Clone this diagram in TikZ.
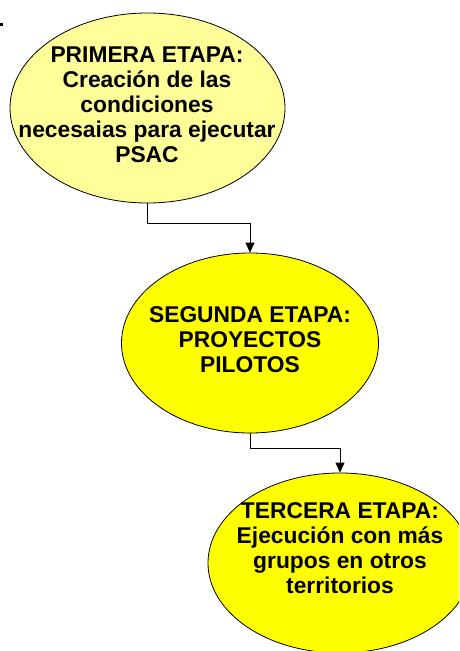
\documentclass[tikz,border=0pt]{standalone}
\usepackage{fontspec}
\setmainfont{Liberation Sans}
\usetikzlibrary{shapes.geometric,arrows.meta}

\definecolor{paleyellow}{RGB}{255,255,153}
\definecolor{brightyellow}{RGB}{255,255,0}

\begin{document}
\begin{tikzpicture}[x=1pt, y=-1pt,
  stage/.style={ellipse, draw=black, line width=0.8pt, inner sep=0pt},
  stagetext/.style={align=center, inner sep=0pt,
    font=\fontsize{22.8}{25}\selectfont\bfseries},
  link/.style={draw=black, line width=0.8pt,
    -{Triangle[width=9pt,length=10pt]}}]

\useasboundingbox (0,0) rectangle (459,651);
\clip (0,0) rectangle (459,651);

% Small mark in the top left corner
\fill (0,23) rectangle (3,26);

% The three stages
\node [stage, fill=paleyellow, minimum width=275pt, minimum height=190pt]
  (primera) at (147.5,108) {};
\node [stagetext] (primera-text) at (147,105)
  {PRIMERA ETAPA:\\ Creación de las\\ condiciones\\ necesaias para ejecutar\\ PSAC};

\node [stage, fill=brightyellow, minimum width=257pt, minimum height=180pt]
  (segunda) at (250,343) {};
\node [stagetext] (segunda-text) at (250,340)
  {SEGUNDA ETAPA:\\ PROYECTOS\\ PILOTOS};

\node [stage, fill=brightyellow, minimum width=264pt, minimum height=180pt]
  (tercera) at (340,563) {};
\node [stagetext] (tercera-text) at (340,548)
  {TERCERA ETAPA:\\ Ejecución con más\\ grupos en otros\\ territorios};

% Elbow connectors from one stage to the next
\foreach \from/\to/\drop in {primera/segunda/20, segunda/tercera/15} {
  \draw [link] (\from.south) -- ++(0,\drop) -| (\to.north);
}
\end{tikzpicture}
\end{document}
